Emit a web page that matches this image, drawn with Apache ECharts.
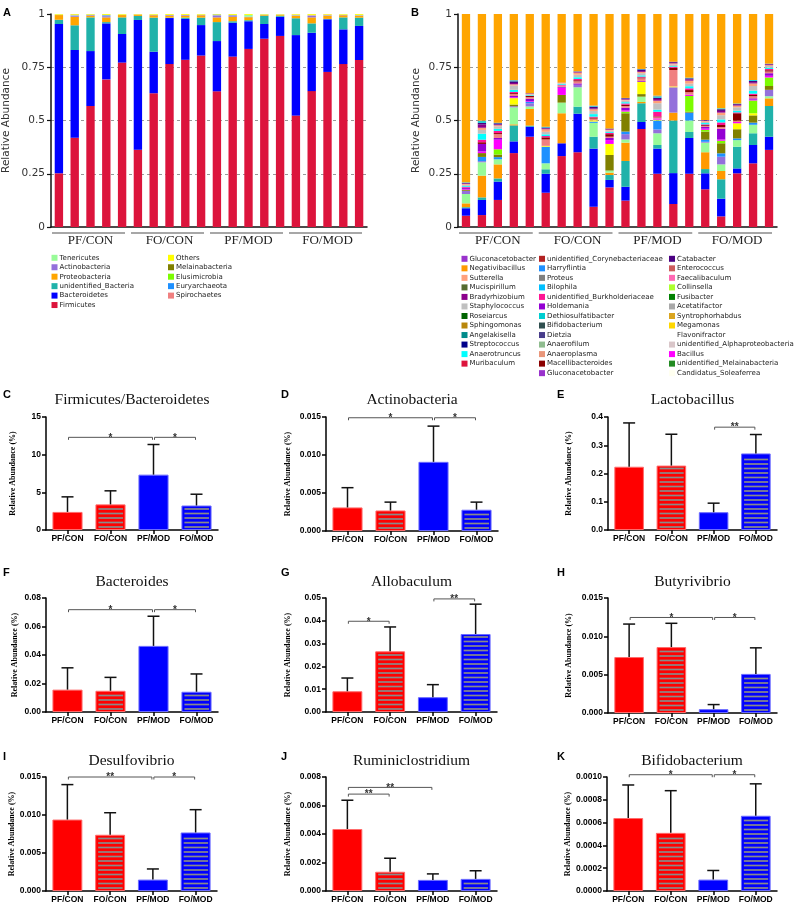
<!DOCTYPE html>
<html><head><meta charset="utf-8">
<script src="https://cdn.jsdelivr.net/npm/echarts@6/dist/echarts.min.js"></script>
<style>html,body{margin:0;padding:0;background:#fff}#c{width:795px;height:905px}</style>
</head><body><div id="c"></div>
<script>
// ---------- categories ----------
const groups = ['PF/CON', 'FO/CON', 'PF/MOD', 'FO/MOD'];
const samples = ['PF/CON-1','PF/CON-2','PF/CON-3','PF/CON-4','PF/CON-5',
  'FO/CON-1','FO/CON-2','FO/CON-3','FO/CON-4','FO/CON-5',
  'PF/MOD-1','PF/MOD-2','PF/MOD-3','PF/MOD-4','PF/MOD-5',
  'FO/MOD-1','FO/MOD-2','FO/MOD-3','FO/MOD-4','FO/MOD-5'];
const stackTicks = [0, 0.25, 0.5, 0.75, 1];

// ---------- panel A: phylum relative abundance ----------
const firmicutes = [.252,.419,.568,.693,.772, .363,.628,.765,.785,.805, .637,.800,.836,.884,.897, .523,.638,.728,.765,.784];
const bacteroidetes = [.701,.412,.258,.263,.134, .609,.195,.216,.192,.143, .236,.159,.130,.069,.090, .378,.274,.247,.163,.160];
const unidentifiedBacteria = [.020,.116,.158,.006,.078, .019,.160,.002,.006,.035, .089,.007,.005,.039,.005, .079,.044,.002,.056,.039];
const proteobacteria = [.022,.040,.008,.022,.011, .006,.011,.009,.009,.011, .022,.021,.014,.004,.004, .012,.028,.015,.010,.009];
const actinobacteria = [.001,.006,.003,.006,.001, .001,.002,.003,.003,.002, .010,.007,.002,.001,.001, .002,.007,.002,.002,.002];
const tenericutes = [.001,.002,.001,.002,.001, .000,.001,.001,.001,.001, .002,.001,.008,.001,.001, .002,.002,.001,.001,.002];
const spirochaetes = [0,.001,0,.001,0, 0,0,0,0,0, 0,0,0,0,0, .001,.002,.002,0,0];
const euryarchaeota = [0,0,.001,.003,0, 0,0,0,0,0, .001,0,0,0,0, 0,0,0,0,0];
const elusimicrobia = [0,0,0,0,0, 0,0,0,0,0, 0,.001,.001,0,0, 0,0,0,0,0];
const melainabacteria = [0,.001,0,0,0, 0,0,0,0,0, .001,0,0,0,0, 0,.001,0,0,0];
const othersPhylum = [.006,.006,.006,.006,.006, .005,.006,.007,.007,.006, .006,.007,.007,.005,.005, .006,.007,.006,.006,.007];

// ---------- panel B: genus relative abundance ----------
const muribaculum = [.053,.056,.127,.347,.424,.161,.333,.351,.095,.186,.124,.46,.25,.108,.25,.177,.05,.252,.299,.362];
const bacteroidesG = [.035,.071,.086,.055,.047,.089,.06,.181,.273,.035,.065,.033,.118,.145,.168,.075,.083,.023,.086,.062];
const allobaculumG = [.005,.012,.015,.075,.005,.021,0,.033,.056,.023,.121,.088,.017,.247,.028,.02,.091,.102,.055,.144];
const negativibacillus = [.018,.102,.066,.005,.078,0,.141,0,0,.011,.086,.006,0,.037,0,.079,.039,0,0,.036];
const paleGenus = [.044,.063,.024,.08,.012,.028,.05,.091,.065,.01,.015,.025,.055,0,.054,.045,.031,.031,.04,.01];
const purpleGenus = [.015,.005,0,.005,.015,0,0,.012,0,0,.025,0,.018,.119,0,.004,.036,0,0,.03];
const harryflintia = [0,.02,.01,0,.006,.078,0,0,.006,0,.012,0,.042,0,.037,.01,.016,.008,.01,0];
const oliveGenus = [.005,.018,.012,.008,0,0,.036,0,0,.073,.086,.012,0,0,.004,.038,.047,.043,.034,.018];
const yellowGenus = [0,0,0,.03,0,.004,0,0,.006,.052,0,.058,.004,.004,0,0,0,.028,.01,0];
const greenGenus = [0,0,.025,0,0,0,0,0,0,0,.008,0,0,0,.074,.008,.012,0,.06,.04];
const bacillus = [.004,.008,.045,.004,.003,0,.034,0,0,.018,.006,0,.006,0,.006,.006,.006,.006,.004,.008];
const holdemania = [.006,.035,.008,.006,.012,0,.004,.006,0,.01,.012,.004,0,0,0,.008,.05,0,.006,.012];
const coralGenus = [0,0,.018,.01,.008,.03,.006,.01,.008,.006,.008,.012,.005,.077,.012,.004,.008,.006,.01,.008];
const macellibacteroides = [0,.008,.005,.004,.006,.01,0,.005,.005,.012,.006,.004,.004,.01,.01,.004,.01,.035,.006,.006];
const burkholderiaceae = [.004,.012,.01,.005,0,.006,.004,.006,.004,.006,.006,.004,.022,.004,.008,.004,.012,.004,.006,.006];
const anaerotruncus = [.004,.028,.01,.01,.003,.008,.004,.008,.012,.005,.006,.006,.01,.004,.01,.006,.014,.008,.014,.006];
const staphylococcus = [.005,.018,.012,.02,.004,.012,.003,.012,.015,.006,.008,.01,.03,.008,.012,.006,.02,.016,.022,.008];
const sutterella = [.004,.01,.005,.006,.002,.012,.002,.01,.008,.004,.004,.006,.012,.005,.014,.004,.012,.008,.012,.004];
const bradyrhizobium = [.003,.015,.004,.006,.002,.004,.001,.003,.004,.003,.004,.004,.008,.003,.006,.002,.008,.004,.006,.003];
const catabacter = [.002,.008,.005,.008,.001,.004,0,.002,.008,.002,.003,.008,.006,.005,.005,.002,.008,.004,.006,.003];
const dethiosulfatibacter = [.002,.008,.002,.004,0,.003,0,.001,.003,.001,.001,.002,.006,0,.003,0,.004,.002,.004,.001];
const proteus = [.001,.003,.001,.002,0,.001,0,0,.002,0,0,0,.004,0,0,0,0,0,0,0];
const otherGenera = [.795,.505,.515,.315,.377,.534,.327,.274,.435,.542,.399,.263,.388,.229,.304,.503,.448,.425,.315,.238];

// ---------- panels C-K: group means and upper error ends ----------
const fbMean = [2.4, 3.4, 7.35, 3.25],           fbUpper = [4.4, 5.2, 11.35, 4.75];
const actinoMean = [.0031, .0027, .0091, .0028], actinoUpper = [.0057, .0038, .0138, .0038];
const lactoMean = [.224, .228, .063, .271],      lactoUpper = [.379, .339, .095, .338];
const bactMean = [.0157, .0149, .0464, .0142],   bactUpper = [.031, .0243, .0672, .0267];
const alloMean = [.0091, .0266, .0065, .0342],   alloUpper = [.0149, .0373, .012, .0473];
const butyMean = [.0073, .0086, .0005, .0051],   butyUpper = [.0116, .0117, .0011, .0085];
const desulfoMean = [.0094, .0074, .0015, .0077], desulfoUpper = [.0140, .0103, .0029, .0107];
const rumMean = [.00435, .00135, .00078, .00085], rumUpper = [.00637, .0023, .0012, .00142];
const bifidoMean = [.00064, .00051, .0001, .00066], bifidoUpper = [.00093, .00088, .00018, .00094];

// tick labels
const cTicks = [0, 5, 10, 15];
const dTicks = [0, 0.005, 0.010, 0.015];
const eTicks = [0, 0.1, 0.2, 0.3, 0.4];
const fTicks = [0, 0.02, 0.04, 0.06, 0.08];
const gTicks = [0, 0.01, 0.02, 0.03, 0.04, 0.05];
const hTicks = [0, 0.005, 0.010, 0.015];
const iTicks = [0, 0.005, 0.010, 0.015];
const jTicks = [0, 0.002, 0.004, 0.006, 0.008];
const kTicks = [0, 0.0002, 0.0004, 0.0006, 0.0008, 0.0010];

// significance brackets: [from, y, to, label]
const cBrackets = [[0, 12.3, 2, '*'], [2, 12.3, 3, '*']];
const dBrackets = [[0, 0.0149, 2, '*'], [2, 0.0149, 3, '*']];
const eBrackets = [[2, 0.364, 3, '**']];
const fBrackets = [[0, 0.0718, 2, '*'], [2, 0.0718, 3, '*']];
const gBrackets = [[0, 0.0398, 1, '*'], [2, 0.0496, 3, '**']];
const hBrackets = [[0, 0.01246, 2, '*'], [2, 0.01246, 3, '*']];
const iBrackets = [[0, 0.0150, 2, '**'], [2, 0.0150, 3, '*']];
const jBrackets = [[0, 0.0068, 1, '**'], [0, 0.00727, 2, '**']];
const kBrackets = [[0, 0.00102, 2, '*'], [2, 0.00102, 3, '*']];

// ---------- build option ----------
const grids = [], xAxes = [], yAxes = [], series = [], legends = [], graphics = [];
const SANS = 'DejaVu Sans', ARIAL = 'Liberation Sans', SERIF = 'Liberation Serif';

function stackPanel(layout, defs, stackName) {
  const g = grids.length;
  grids.push({left: layout.left, top: layout.top, width: layout.width, height: layout.height});
  const xs = xAxes.length;
  xAxes.push({gridIndex: g, type: 'category', data: samples,
    axisLine: {lineStyle: {color: '#111', width: 1.5}}, axisTick: {show: false}, axisLabel: {show: false}});
  const xg = xAxes.length;
  xAxes.push({gridIndex: g, type: 'category', data: groups, position: 'bottom',
    axisLine: {show: false}, axisTick: {show: false},
    axisLabel: {margin: 7.5, fontFamily: SERIF, fontSize: 13, color: '#222'}});
  const y = yAxes.length;
  yAxes.push({gridIndex: g, type: 'value', min: stackTicks[0], max: stackTicks[stackTicks.length - 1],
    interval: stackTicks[1] - stackTicks[0],
    axisLine: {show: true, lineStyle: {color: '#111', width: 1.5}},
    axisTick: {show: true, length: 4, lineStyle: {color: '#111', width: 1.2}},
    axisLabel: {fontFamily: SANS, fontSize: 10.5, color: '#333', margin: 6},
    splitLine: {show: true, showMinLine: false, showMaxLine: false, lineStyle: {type: [3, 3], color: '#999', width: 1}},
    name: 'Relative Abundance', nameLocation: 'middle', nameGap: layout.nameGap,
    nameTextStyle: {fontFamily: SANS, fontSize: 10.5, color: '#333'}});
  defs.forEach(d => series.push({type: 'bar', name: d.name, stack: stackName, xAxisIndex: xs, yAxisIndex: y,
    barWidth: layout.barWidth, data: d.data, itemStyle: {color: d.color}, silent: true}));
  series.push({type: 'custom', xAxisIndex: xg, yAxisIndex: y, silent: true, z: 5,
    data: groups.map((gname, i) => [i, 0]),
    renderItem: (p, api) => {
      const c = api.coord([api.value(0), 0]);
      const bw = api.size([1, 0])[0];
      return {type: 'line', shape: {x1: c[0] - bw / 2 + 1, y1: c[1] + 6, x2: c[0] + bw / 2 - 5, y2: c[1] + 6},
        style: {stroke: '#8a8a8a', lineWidth: 1.3}};
    }});
}

const phylumDefs = [
  {name: 'Firmicutes', color: '#DC143C', data: firmicutes},
  {name: 'Bacteroidetes', color: '#0000FF', data: bacteroidetes},
  {name: 'unidentified_Bacteria', color: '#20B2AA', data: unidentifiedBacteria},
  {name: 'Proteobacteria', color: '#FFA500', data: proteobacteria},
  {name: 'Actinobacteria', color: '#9370DB', data: actinobacteria},
  {name: 'Tenericutes', color: '#98FB98', data: tenericutes},
  {name: 'Spirochaetes', color: '#F08080', data: spirochaetes},
  {name: 'Euryarchaeota', color: '#1E90FF', data: euryarchaeota},
  {name: 'Elusimicrobia', color: '#7CFC00', data: elusimicrobia},
  {name: 'Melainabacteria', color: '#808000', data: melainabacteria},
  {name: 'Others', color: '#FFFF00', data: othersPhylum}
];
const genusDefs = [
  {name: 'Muribaculum', color: '#DC143C', data: muribaculum},
  {name: 'Bacteroides', color: '#0000FF', data: bacteroidesG},
  {name: 'Allobaculum', color: '#20B2AA', data: allobaculumG},
  {name: 'Negativibacillus', color: '#FF9900', data: negativibacillus},
  {name: 'genus_palegreen', color: '#98FB98', data: paleGenus},
  {name: 'genus_purple', color: '#9370DB', data: purpleGenus},
  {name: 'Harryflintia', color: '#1E90FF', data: harryflintia},
  {name: 'genus_olive', color: '#808000', data: oliveGenus},
  {name: 'genus_yellow', color: '#FFFF00', data: yellowGenus},
  {name: 'genus_green', color: '#7CFC00', data: greenGenus},
  {name: 'Bacillus', color: '#FF00FF', data: bacillus},
  {name: 'Holdemania', color: '#9400D3', data: holdemania},
  {name: 'genus_coral', color: '#F08080', data: coralGenus},
  {name: 'Macellibacteroides', color: '#8B0000', data: macellibacteroides},
  {name: 'unidentified_Burkholderiaceae', color: '#FF1493', data: burkholderiaceae},
  {name: 'Anaerotruncus', color: '#00FFFF', data: anaerotruncus},
  {name: 'Staphylococcus', color: '#C0C0C0', data: staphylococcus},
  {name: 'Sutterella', color: '#FFA07A', data: sutterella},
  {name: 'Bradyrhizobium', color: '#8B008B', data: bradyrhizobium},
  {name: 'Catabacter', color: '#4B0082', data: catabacter},
  {name: 'Dethiosulfatibacter', color: '#00CED1', data: dethiosulfatibacter},
  {name: 'Proteus', color: '#808080', data: proteus},
  {name: 'Other genera', color: '#FFA500', data: otherGenera},
  // legend-only genera (no visible share)
  {name: 'Gluconacetobacter', color: '#9932CC', data: []},
  {name: 'Mucispirillum', color: '#556B2F', data: []},
  {name: 'Roseiarcus', color: '#006400', data: []},
  {name: 'Sphingomonas', color: '#B8860B', data: []},
  {name: 'Angelakisella', color: '#008B8B', data: []},
  {name: 'Streptococcus', color: '#00008B', data: []},
  {name: 'unidentified_Corynebacteriaceae', color: '#B22222', data: []},
  {name: 'Bilophila', color: '#00BFFF', data: []},
  {name: 'Bifidobacterium', color: '#2F4F4F', data: []},
  {name: 'Dietzia', color: '#483D8B', data: []},
  {name: 'Anaerofilum', color: '#8FBC8F', data: []},
  {name: 'Anaeroplasma', color: '#E9967A', data: []},
  {name: 'Enterococcus', color: '#CD5C5C', data: []},
  {name: 'Faecalibaculum', color: '#FF69B4', data: []},
  {name: 'Collinsella', color: '#ADFF2F', data: []},
  {name: 'Fusibacter', color: '#008000', data: []},
  {name: 'Acetatifactor', color: '#A9A9A9', data: []},
  {name: 'Syntrophorhabdus', color: '#DAA520', data: []},
  {name: 'Megamonas', color: '#FFD700', data: []},
  {name: 'Flavonifractor', color: '#FFFFFF', data: []},
  {name: 'unidentified_Alphaproteobacteria', color: '#D9C6C9', data: []},
  {name: 'unidentified_Melainabacteria', color: '#228B22', data: []},
  {name: 'Candidatus_Soleaferrea', color: '#FFFFF0', data: []}
];

stackPanel({left: 51, top: 14, width: 316, height: 213, nameGap: 39, barWidth: '53%'}, phylumDefs, 'phylum');
stackPanel({left: 458, top: 14, width: 319, height: 213, nameGap: 36, barWidth: '52%'}, genusDefs, 'genus');

const legendA1 = ['Tenericutes', 'Actinobacteria', 'Proteobacteria', 'unidentified_Bacteria', 'Bacteroidetes', 'Firmicutes'];
const legendA2 = ['Others', 'Melainabacteria', 'Elusimicrobia', 'Euryarchaeota', 'Spirochaetes'];
const legendB1 = ['Gluconacetobacter','Negativibacillus','Sutterella','Mucispirillum','Bradyrhizobium','Staphylococcus','Roseiarcus','Sphingomonas','Angelakisella','Streptococcus','Anaerotruncus','Muribaculum'];
const legendB2 = ['unidentified_Corynebacteriaceae','Harryflintia','Proteus','Bilophila','unidentified_Burkholderiaceae','Holdemania','Dethiosulfatibacter','Bifidobacterium','Dietzia','Anaerofilum','Anaeroplasma','Macellibacteroides','Gluconacetobacter'];
const legendB3 = ['Catabacter','Enterococcus','Faecalibaculum','Collinsella','Fusibacter','Acetatifactor','Syntrophorhabdus','Megamonas','Flavonifractor','unidentified_Alphaproteobacteria','Bacillus','unidentified_Melainabacteria','Candidatus_Soleaferrea'];

function legend(data, left, top, gap) {
  legends.push({data, left, top, orient: 'vertical', icon: 'rect', itemWidth: 6, itemHeight: 6, itemGap: gap,
    padding: 0, selectedMode: false,
    textStyle: {fontFamily: SANS, fontSize: 7, color: '#222', lineHeight: 6, padding: [0, 0, 0, -3]}});
}
legend(legendA1, 51.5, 254.3, 2.45);
legend(legendA2, 168, 254.3, 2.45);
legend(legendB1, 461.5, 255.3, 2.53);
legend(legendB2, 539, 255.3, 2.53);
legend(legendB3, 669, 255.3, 2.53);

// ---------- bar panels ----------
const barStyles = [
  {color: '#FF0000', borderColor: '#FF6B6B', borderWidth: 1},
  {color: '#FF0000', borderColor: '#FF6B6B', borderWidth: 1},
  {color: '#0000FF', borderColor: '#6B6BFF', borderWidth: 1},
  {color: '#0000FF', borderColor: '#6B6BFF', borderWidth: 1}
];
const hatchedGroups = [1, 3];   // FO groups drawn with grey stripes
const BAR_FRAC = 0.7;

const panels = [
  {letter: 'C', title: 'Firmicutes/Bacteroidetes', mean: fbMean, upper: fbUpper, ticks: cTicks, dec: 0, br: cBrackets, left: 46, top: 417, w: 172, h: 113, gap: 29, lx: 3, ly: 389, ty: 400},
  {letter: 'D', title: 'Actinobacteria', mean: actinoMean, upper: actinoUpper, ticks: dTicks, dec: 3, br: dBrackets, left: 326, top: 417, w: 172, h: 114, gap: 34, lx: 281, ly: 389, ty: 400},
  {letter: 'E', title: 'Lactobacillus', mean: lactoMean, upper: lactoUpper, ticks: eTicks, dec: 1, br: eBrackets, left: 608, top: 417, w: 169, h: 113, gap: 35, lx: 557, ly: 389, ty: 400},
  {letter: 'F', title: 'Bacteroides', mean: bactMean, upper: bactUpper, ticks: fTicks, dec: 2, br: fBrackets, left: 46, top: 598, w: 172, h: 114, gap: 27, lx: 3, ly: 567, ty: 582},
  {letter: 'G', title: 'Allobaculum', mean: alloMean, upper: alloUpper, ticks: gTicks, dec: 2, br: gBrackets, left: 326, top: 598, w: 171, h: 114, gap: 34, lx: 281, ly: 567, ty: 582},
  {letter: 'H', title: 'Butyrivibrio', mean: butyMean, upper: butyUpper, ticks: hTicks, dec: 3, br: hBrackets, left: 608, top: 598, w: 169, h: 115, gap: 35, lx: 557, ly: 567, ty: 582},
  {letter: 'I', title: 'Desulfovibrio', mean: desulfoMean, upper: desulfoUpper, ticks: iTicks, dec: 3, br: iBrackets, left: 46, top: 777, w: 171, h: 114, gap: 29, lx: 3, ly: 751, ty: 761},
  {letter: 'J', title: 'Ruminiclostridium', mean: rumMean, upper: rumUpper, ticks: jTicks, dec: 3, br: jBrackets, left: 326, top: 777, w: 171, h: 114, gap: 34, lx: 281, ly: 751, ty: 761},
  {letter: 'K', title: 'Bifidobacterium', mean: bifidoMean, upper: bifidoUpper, ticks: kTicks, dec: 4, br: kBrackets, left: 607, top: 777, w: 170, h: 114, gap: 35, lx: 557, ly: 751, ty: 761}
];

panels.forEach(pn => {
  const g = grids.length;
  grids.push({left: pn.left, top: pn.top, width: pn.w, height: pn.h});
  const x = xAxes.length;
  xAxes.push({gridIndex: g, type: 'category', data: groups,
    axisLine: {lineStyle: {color: '#000', width: 1.5}},
    axisTick: {show: true, alignWithLabel: true, length: 4, lineStyle: {color: '#000', width: 1.5}},
    axisLabel: {interval: 0, margin: 4.5, fontFamily: ARIAL, fontWeight: 'bold', fontSize: 8.5, color: '#000'}});
  const y = yAxes.length;
  const dec = pn.dec;
  yAxes.push({gridIndex: g, type: 'value', min: pn.ticks[0], max: pn.ticks[pn.ticks.length - 1],
    interval: pn.ticks[1] - pn.ticks[0],
    axisLine: {show: true, lineStyle: {color: '#000', width: 1.5}},
    axisTick: {show: true, length: 4, lineStyle: {color: '#000', width: 1.5}},
    splitLine: {show: false},
    axisLabel: {fontFamily: ARIAL, fontWeight: 'bold', fontSize: 8.5, color: '#000', margin: 5,
      formatter: v => v.toFixed(dec)},
    name: 'Relative Abundance (%)', nameLocation: 'middle', nameGap: pn.gap,
    nameTextStyle: {fontFamily: SERIF, fontWeight: 'bold', fontSize: 8, color: '#000'}});
  series.push({type: 'bar', name: pn.title, xAxisIndex: x, yAxisIndex: y, barWidth: (BAR_FRAC * 100) + '%', silent: true,
    data: pn.mean.map((v, i) => ({value: v, itemStyle: barStyles[i]}))});
  // grey horizontal stripes inside the FO bars
  series.push({type: 'custom', name: pn.title + ' hatch', xAxisIndex: x, yAxisIndex: y, silent: true, z: 3,
    data: hatchedGroups.map(i => [i, pn.mean[i]]),
    renderItem: (p, api) => {
      const base = api.coord([api.value(0), 0]);
      const top = api.coord([api.value(0), api.value(1)]);
      const bw = api.size([1, 0])[0] * BAR_FRAC;
      const x0 = base[0] - bw / 2 + 3, x1 = base[0] + bw / 2 - 2.5;
      const kids = [];
      for (let yy = base[1] - 3; yy > top[1] + 2.5; yy -= 4.5) {
        kids.push({type: 'line', shape: {x1: x0, y1: yy, x2: x1, y2: yy}, style: {stroke: '#8a8a8a', lineWidth: 1.7}});
      }
      return {type: 'group', children: kids};
    }});
  series.push({type: 'custom', name: pn.title + ' SD', xAxisIndex: x, yAxisIndex: y, silent: true, z: 4,
    data: pn.mean.map((m, i) => [i, m, pn.upper[i]]),
    renderItem: (p, api) => {
      const a = api.coord([api.value(0), api.value(1)]);
      const b = api.coord([api.value(0), api.value(2)]);
      return {type: 'group', children: [
        {type: 'line', shape: {x1: a[0], y1: a[1], x2: b[0], y2: b[1]}, style: {stroke: '#111', lineWidth: 1.5}},
        {type: 'line', shape: {x1: b[0] - 6, y1: b[1], x2: b[0] + 6, y2: b[1]}, style: {stroke: '#111', lineWidth: 1.5}}
      ]};
    }});
  const br = pn.br;
  series.push({type: 'custom', name: pn.title + ' sig', xAxisIndex: x, yAxisIndex: y, silent: true, z: 5,
    data: br.map(b => [b[0], b[1], b[2]]),
    renderItem: (p, api) => {
      const a = api.coord([api.value(0), api.value(1)]);
      const b = api.coord([api.value(2), api.value(1)]);
      const x1 = a[0] + 1, x2 = b[0] - 1, yy = a[1];
      return {type: 'group', children: [
        {type: 'polyline', shape: {points: [[x1, yy + 2.5], [x1, yy], [x2, yy], [x2, yy + 2.5]]},
          style: {stroke: '#555', lineWidth: 1, fill: null}},
        {type: 'text', x: (x1 + x2) / 2, y: yy + 0.5,
          style: {text: br[p.dataIndex][3], fill: '#333', fontFamily: ARIAL, fontWeight: 'bold', fontSize: 10,
            align: 'center', verticalAlign: 'middle', textAlign: 'center', textVerticalAlign: 'middle'}}
      ]};
    }});
  graphics.push({type: 'text', x: pn.left + pn.w / 2, y: pn.ty,
    style: {text: pn.title, fill: '#111', fontFamily: SERIF, fontSize: 15.5,
      align: 'center', verticalAlign: 'middle', textAlign: 'center', textVerticalAlign: 'middle'}});
  graphics.push({type: 'text', x: pn.lx, y: pn.ly,
    style: {text: pn.letter, fill: '#000', fontFamily: ARIAL, fontWeight: 'bold', fontSize: 11}});
});

graphics.push({type: 'text', x: 3, y: 7, style: {text: 'A', fill: '#000', fontFamily: ARIAL, fontWeight: 'bold', fontSize: 11}});
graphics.push({type: 'text', x: 411, y: 7, style: {text: 'B', fill: '#000', fontFamily: ARIAL, fontWeight: 'bold', fontSize: 11}});

const chart = echarts.init(document.getElementById('c'), null, {renderer: 'canvas'});
chart.setOption({
  animation: false,
  backgroundColor: '#fff',
  grid: grids, xAxis: xAxes, yAxis: yAxes, series: series, legend: legends, graphic: graphics
});
</script></body></html>
